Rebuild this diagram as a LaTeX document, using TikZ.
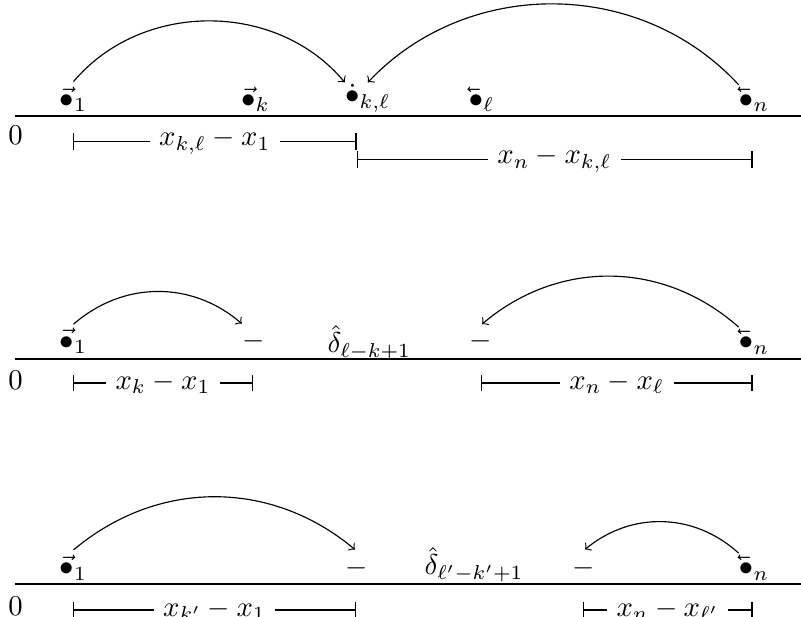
\documentclass[tikz,border=0pt]{standalone}
\usepackage{graphicx}
\usetikzlibrary{calc}
\newcommand{\cevbul}{\mathord{\reflectbox{$\vec{\bullet}$}}}
\begin{document}
\begin{tikzpicture}[x=0.3484pt,y=0.3484pt,
  axisline/.style={line width=0.4pt},
  pt/.style={anchor=base west, inner sep=0pt},
  mn/.style={anchor=base, inner sep=0pt},
  zero/.style={anchor=base, inner sep=0pt},
  lab/.style={fill=white},
  dimline/.style={|-|},
  arc/.style={->}]
\useasboundingbox (0,0) rectangle (801,-617);

% ---------- row 1 ----------
\draw[axisline] (15,-116) -- (801,-116);
\node[zero] (z1) at (15.5,-145) {$0$};
\node[pt] (a1) at (59.3,-107.7) {$\vec{\bullet}_1$};
\node[pt] (ak) at (240.8,-107.7) {$\vec{\bullet}_k$};
\node[pt] (akl) at (344.8,-104) {$\dot{\bullet}_{k,\ell}$};
\node[pt] (al) at (468.3,-107.7) {$\cevbul_\ell$};
\node[pt] (an) at (738.6,-107.7) {$\cevbul_n$};
\draw[arc] ([yshift=1.6pt]a1.north) to[bend left=50] ([yshift=0.5pt]akl.north west);
\draw[arc] ([yshift=0.5pt]an.north west) to[bend right=47] ([yshift=0.5pt]akl.north);
\coordinate (p1) at (73,-141.5);
\coordinate (p2) at (356.5,-141.5);
\coordinate (p3) at (356.5,-159.5);
\coordinate (p4) at (752.5,-159.5);
\draw[dimline] (p1) -- node[lab] {$x_{k,\ell}-x_1$} (p2);
\draw[dimline] (p3) -- node[lab] {$x_n-x_{k,\ell}$} (p4);

% ---------- row 2 ----------
\draw[axisline] (15,-359) -- (801,-359);
\node[zero] (z2) at (15.5,-390) {$0$};
\node[pt] (b1) at (59.3,-349.2) {$\vec{\bullet}_1$};
\node[mn] (bm1) at (253.5,-349) {$-$};
\node[pt] (bd) at (327,-353) {$\hat{\delta}_{\ell-k+1}$};
\node[mn] (bm2) at (480.5,-349) {$-$};
\node[pt] (bn) at (738.6,-350) {$\cevbul_n$};
\draw[arc] ([yshift=1.2pt]b1.north) to[bend left=41] ([yshift=2.8pt]bm1.north west);
\draw[arc] ([yshift=0.5pt]bn.north west) to[bend right=41] ([xshift=0.5pt,yshift=2.6pt]bm2.north);
\coordinate (q1) at (73,-383);
\coordinate (q2) at (253,-383);
\coordinate (q3) at (481,-383);
\coordinate (q4) at (752.5,-383);
\draw[dimline] (q1) -- node[lab] {$x_k-x_1$} (q2);
\draw[dimline] (q3) -- node[lab] {$x_n-x_\ell$} (q4);

% ---------- row 3 ----------
\draw[axisline] (15,-584) -- (801,-584);
\node[zero] (z3) at (15.5,-615) {$0$};
\node[pt] (c1) at (59.3,-576) {$\vec{\bullet}_1$};
\node[mn] (cm1) at (357,-575.5) {$-$};
\node[pt] (cd) at (424,-575) {$\hat{\delta}_{\ell'-k'+1}$};
\node[mn] (cm2) at (584,-575.5) {$-$};
\node[pt] (cn) at (738.6,-576) {$\cevbul_n$};
\draw[arc] ([yshift=1.6pt]c1.north) to[bend left=40] ([xshift=-0.7pt,yshift=3pt]cm1.north);
\draw[arc] ([yshift=0.5pt]cn.north west) to[bend right=41] ([xshift=0.3pt,yshift=3pt]cm2.north);
\coordinate (r1) at (73,-610);
\coordinate (r2) at (356,-610);
\coordinate (r3) at (583,-610);
\coordinate (r4) at (752.5,-610);
\draw[dimline] (r1) -- node[lab] {$x_{k'}-x_1$} (r2);
\draw[dimline] (r3) -- node[lab] {$x_n-x_{\ell'}$} (r4);
\end{tikzpicture}
\end{document}
